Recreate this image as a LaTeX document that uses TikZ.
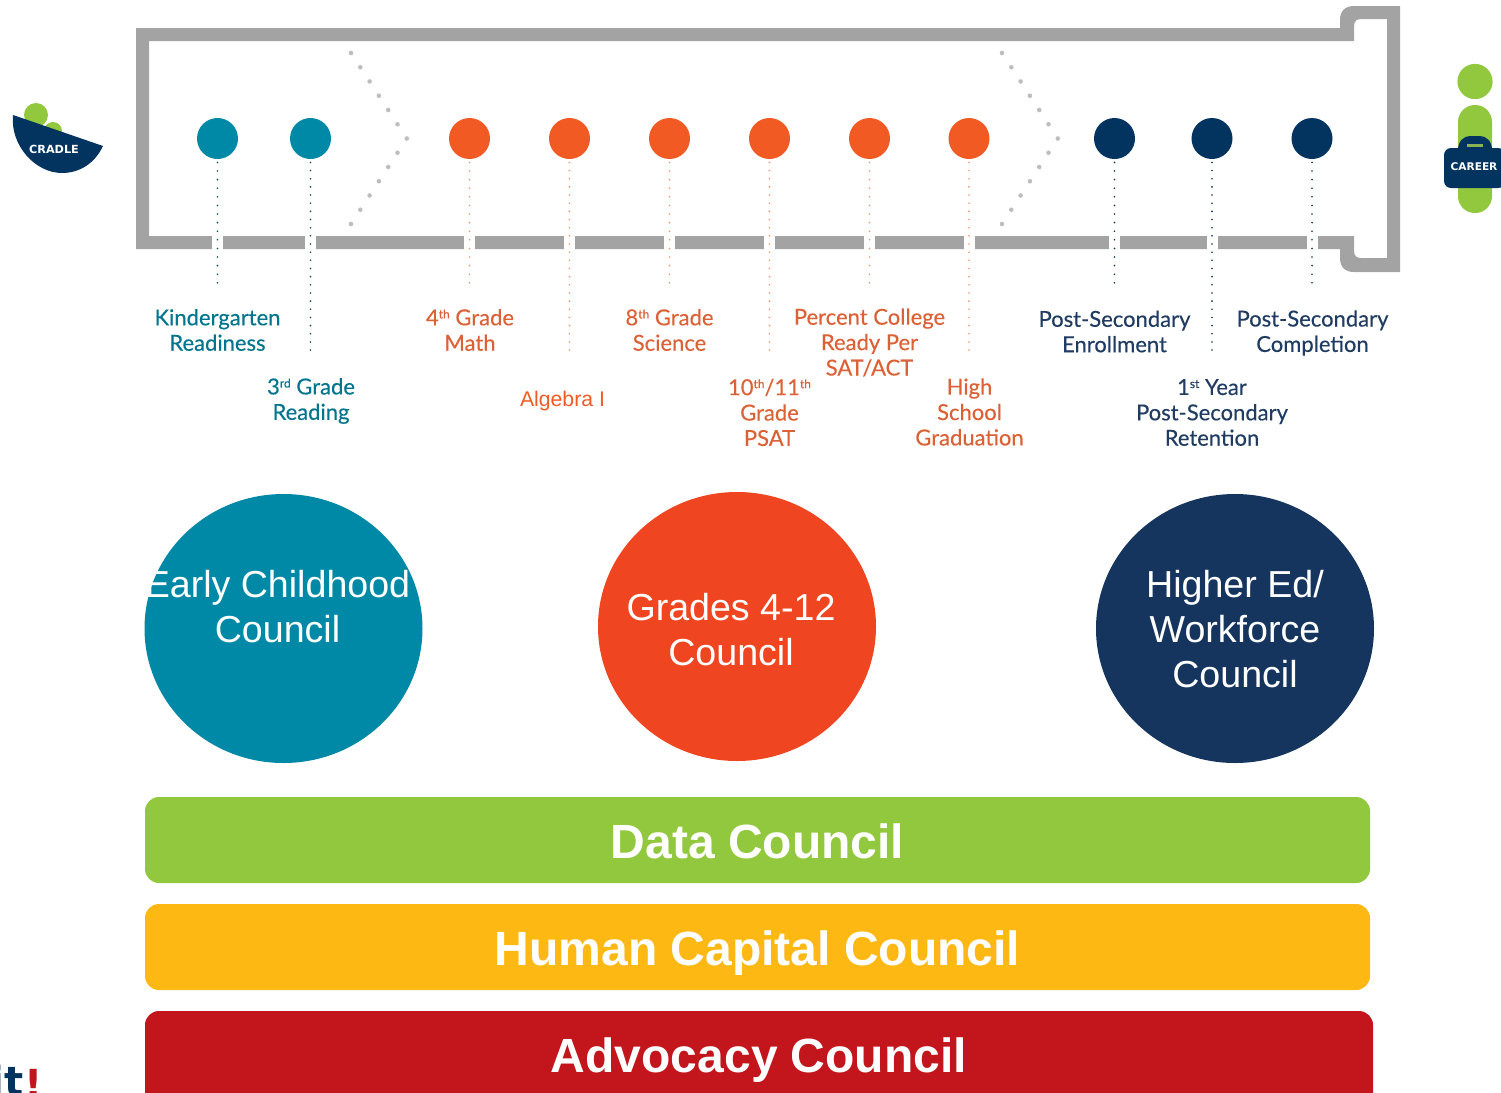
\documentclass[tikz,border=0pt]{standalone}
\usepackage{fontspec}
\setmainfont{Liberation Sans}
\newfontfamily\labelfont[FakeBold=0.3]{Lato}
\newfontfamily\logofont{DejaVu Sans}
\usetikzlibrary{shapes.geometric}
\definecolor{framegray}{HTML}{A3A3A3}
\definecolor{tealc}{HTML}{0089A6}
\definecolor{orangec}{HTML}{F04521}
\definecolor{navyc}{HTML}{15355F}
\definecolor{dotorange}{HTML}{F25A23}
\definecolor{dotnavy}{HTML}{03335F}
\definecolor{limec}{HTML}{92C83E}
\definecolor{yellowc}{HTML}{FDB813}
\definecolor{redc}{HTML}{C2161C}
\newcommand{\upsc}[1]{\smash{\raisebox{0.62ex}{\fontsize{6}{6}\selectfont #1}}}
\begin{document}
\begin{tikzpicture}[x=0.5pt,y=-0.5pt,
    stagedot/.style={circle,minimum size=20.5pt,inner sep=0pt},
    droptick/.style={line width=0.9pt,line cap=round,shorten <=1.5pt},
    stagelabel/.style={align=center,inner sep=0pt,font=\labelfont\fontsize{11}{12.7}\selectfont},
    council/.style={ellipse,minimum width=139pt,minimum height=134.5pt,inner sep=0pt},
    counciltext/.style={align=center,inner sep=0pt,text=white,font=\fontsize{18.8}{22.5}\selectfont},
    councilbar/.style={rounded corners=7pt},
    bartext/.style={anchor=base,inner sep=0pt,text=white,font=\fontsize{24}{28}\selectfont\bfseries}]
\useasboundingbox (0,0) rectangle (1501,1093);
\clip (0,0) rectangle (1501,1093);

% Frame
\fill[framegray,even odd rule]
    (136,28) -- (1340,28) -- (1340,20) .. controls (1340,11) and (1345,6) .. (1354,6) -- (1400,6)
    -- (1400,272) -- (1354,272) .. controls (1345,272) and (1340,267) .. (1340,258) -- (1340,249) -- (136,249) -- cycle
    (149,41) -- (1354,41) -- (1354,26) .. controls (1354,21) and (1357,19) .. (1361,19) -- (1387,19)
    -- (1387,258) -- (1361,258) .. controls (1357,258) and (1354,256) .. (1354,251) -- (1354,236) -- (149,236) -- cycle;

% Gaps in the frame
\foreach \x in {217.5,310.5,469.5,569.5,669.5,769.5,869.5,969,1114.5,1212,1312}
    \fill[white] (\x-5.5,235) rectangle (\x+5.5,250);

% Chevrons
\foreach \x in {351,1002} {
    \foreach \i in {0,...,6}
        \fill[framegray!70] (\x+9.3*\i,53+14.25*\i) circle (1.15pt);
    \foreach \i in {1,...,6}
        \fill[framegray!70] (\x+55.8-9.3*\i,138.5+14.25*\i) circle (1.15pt);
}

% Stages
\foreach \x/\n/\c/\t/\e/\d in {217.5/a/tealc/tealc!60!black/285/4.3,310.5/b/tealc/tealc!60!black/353/4.08,
    469.5/c/dotorange/dotorange!65/285/4.3,569.5/d/dotorange/dotorange!65/353/4.08,669.5/e/dotorange/dotorange!65/285/4.3,
    769.5/f/dotorange/dotorange!65/353/4.08,869.5/g/dotorange/dotorange!65/285/4.3,969/h/dotorange/dotorange!65/353/4.08,
    1114.5/i/dotnavy/dotnavy/285/4.3,1212/j/dotnavy/dotnavy/353/4.08,1312/k/dotnavy/dotnavy/285/4.3} {
    \node[stagedot,fill=\c] (stage\n) at (\x,138.5) {};
    \coordinate (end\n) at (\x,\e);
    \draw[droptick,\t,dash pattern=on 0pt off \d pt] (stage\n) -- (end\n);
}

% Labels
\begin{scope}[text=tealc!85!black]
\node[stagelabel] (lblk) at (217.5,330) {Kindergarten\\Readiness};
\node[stagelabel] (lblr) at (311,401) {3\upsc{rd} Grade\\Reading};
\end{scope}
\begin{scope}[text=dotorange!80!gray]
\node[stagelabel] (lblm) at (470,330) {4\upsc{th} Grade\\Math};
\node[stagelabel] (lbls) at (669.5,330) {8\upsc{th} Grade\\Science};
\node[stagelabel] (lblc) at (869.5,342.5) {Percent College\\Ready Per\\SAT/ACT};
\node[stagelabel] (lblp) at (769.5,412.5) {10\upsc{th}/11\upsc{th}\\Grade\\PSAT};
\node[stagelabel] (lblh) at (969.5,412) {High\\School\\Graduation};
\end{scope}
\node[inner sep=0pt,text=dotorange,font=\fontsize{10.6}{12}\selectfont] (lbla) at (562.5,401) {Algebra I};
\begin{scope}[text=navyc!90!gray]
\node[stagelabel] (lble) at (1114.5,331.5) {Post-Secondary\\Enrollment};
\node[stagelabel] (lblo) at (1312.5,333) {Post-Secondary\\Completion};
\node[stagelabel] (lbly) at (1212,412.5) {1\upsc{st} Year\\Post-Secondary\\Retention};
\end{scope}

% Cradle
\fill[limec] (36,115) circle (6pt);
\fill[limec] (53,131) circle (4.5pt);
\fill[dotnavy] (13,115) .. controls (10,145) and (35,173) .. (62,173)
    .. controls (80,173) and (95,163) .. (103,146) -- cycle;
\node[inner sep=0pt,text=white,font=\logofont\fontsize{5.6}{7}\selectfont\bfseries] (cradle) at (54,149) {CRADLE};

% Career
\fill[limec] (1475,81.5) circle (8.8pt);
\fill[limec,rounded corners=8.4pt] (1458,105) rectangle (1492,213);
\fill[dotnavy] (1458,150) .. controls (1458,141) and (1464,136) .. (1470,136) -- (1480,136)
    .. controls (1486,136) and (1492,141) .. (1492,150) -- cycle;
\fill[dotnavy,rounded corners=3.5pt] (1444,148) rectangle (1505,188);
\fill[limec!70!gray] (1467,143.5) rectangle (1483,147);
\node[inner sep=0pt,text=white,font=\logofont\fontsize{5.3}{7}\selectfont\bfseries] (career) at (1474,166.5) {CAREER};

% Councils
\node[council,fill=tealc] (early) at (283.5,628.5) {};
\node[council,fill=orangec] (grades) at (737,626.5) {};
\node[council,fill=navyc] (higher) at (1235,628.5) {};
\node[counciltext] (earlytxt) at (277.5,606.5) {Early Childhood\\Council};
\node[counciltext] (gradestxt) at (731,629.5) {Grades 4-12\\Council};
\node[counciltext] (highertxt) at (1235,629) {Higher Ed/\\Workforce\\Council};

% Bars
\fill[limec,councilbar] (145,797) rectangle (1370,883);
\fill[yellowc,councilbar] (145,904) rectangle (1370,990);
\fill[redc,councilbar] (145,1011) rectangle (1373,1110);
\node[bartext] (data) at (757.5,858) {Data Council};
\node[bartext] (human) at (757.5,965) {Human Capital Council};
\node[bartext] (advocacy) at (759,1072) {Advocacy Council};

% Cut off logo
\node[anchor=base east,inner sep=0pt,text=dotnavy,font=\logofont\fontsize{20}{22}\selectfont\bfseries] (logoit) at (24,1095) {it};
\node[anchor=base,inner sep=0pt,text=redc,font=\logofont\fontsize{20}{22}\selectfont\bfseries] (logobang) at (33.5,1098) {!};
\end{tikzpicture}
\end{document}
